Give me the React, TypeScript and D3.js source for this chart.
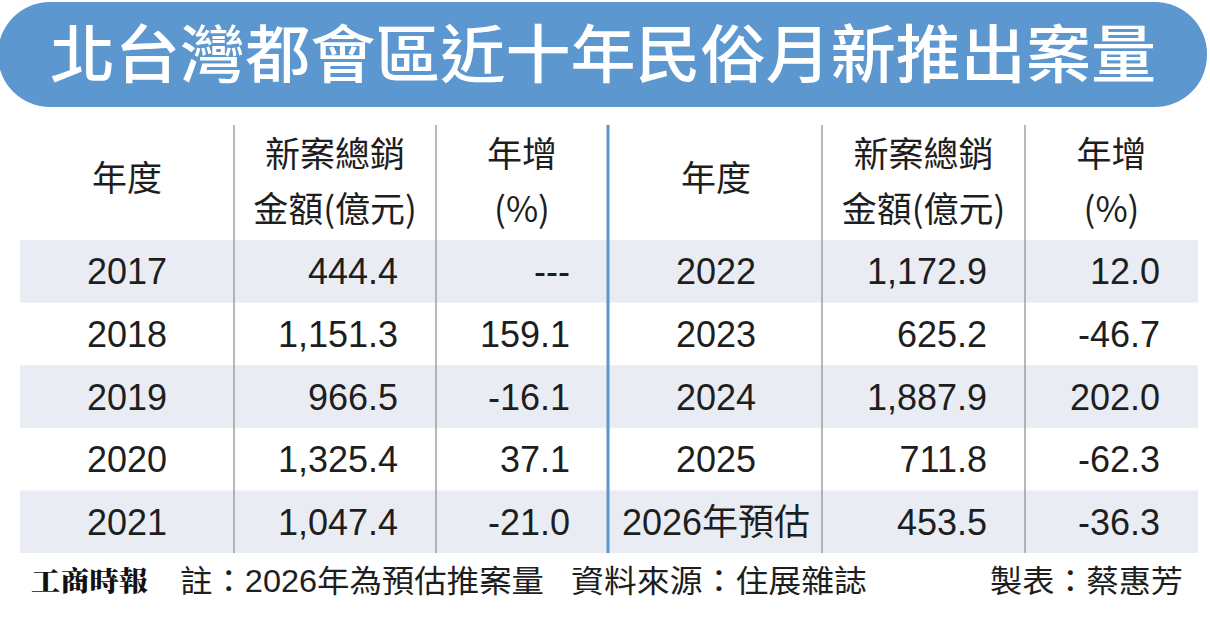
import React from "react";
import * as d3 from "d3";

const title = "北台灣都會區近十年民俗月新推出案量";
const headerYear = ["年度"];
const headerSales = ["新案總銷", "金額(億元)"];
const headerGrowth = ["年增", "(%)"];
const yearsLeft = ["2017", "2018", "2019", "2020", "2021"];
const salesLeft = [444.4, 1151.3, 966.5, 1325.4, 1047.4];
const growthLeft: (number | null)[] = [null, 159.1, -16.1, 37.1, -21.0];
const yearsRight = ["2022", "2023", "2024", "2025", "2026年預估"];
const salesRight = [1172.9, 625.2, 1887.9, 711.8, 453.5];
const growthRight: (number | null)[] = [12.0, -46.7, 202.0, -62.3, -36.3];
const footLogo = "工商時報";
const footNote = "註：2026年為預估推案量";
const footSource = "資料來源：住展雜誌";
const footAuthor = "製表：蔡惠芳";

const W = 1210;
const H = 621;
const FONT = "'Liberation Sans', Arial, 'Noto Sans CJK TC', sans-serif";
const CJK = "'Noto Sans CJK TC', 'Liberation Sans', sans-serif";
const TEXT = "#1e1e1e";
const BLUE = "#5d97d0";

export default function App() {
  const rowIdx = d3.range(yearsLeft.length).map(String);
  const y = d3.scaleBand<string>().domain(rowIdx).range([240, 553]).paddingInner(0).paddingOuter(0);
  const fmt = d3.format(",.1f");
  const fmtG = (v: number | null) => (v === null ? "---" : d3.format(".1f")(v).replace("\u2212", "-"));

  const halves = [
    { x0: 20, c1: 234, c2: 436, x1: 608, years: yearsLeft, sales: salesLeft, growth: growthLeft },
    { x0: 610, c1: 822, c2: 1025, x1: 1198, years: yearsRight, sales: salesRight, growth: growthRight },
  ];

  return (
    <svg width={W} height={H} style={{ position: "absolute", left: 0, top: 0, background: "#fff" }}>
      <rect x={0} y={0} width={W} height={H} fill="#fff" />
      <rect x={-2} y={2} width={1209} height={105} rx={52} ry={52} fill={BLUE} />
      <text
        x={603}
        y={77}
        textAnchor="middle"
        fill="#fff"
        fontFamily={CJK}
        fontWeight={500}
        fontSize={63}
        textLength={1106}
        lengthAdjust="spacingAndGlyphs"
      >
        {title}
      </text>

      {rowIdx.filter((_, i) => i % 2 === 0).map((k) => (
        <rect key={k} x={20} y={y(k)} width={1178} height={y.bandwidth()} fill="#e9edf3" />
      ))}

      {halves.map((h, hi) => (
        <g key={hi}>
          {[h.c1, h.c2].map((cx) => (
            <line key={cx} x1={cx} x2={cx} y1={125} y2={553} stroke="#8a8a8a" strokeWidth={1.2} />
          ))}
          <text x={(h.x0 + h.c1) / 2} y={191} textAnchor="middle" fontFamily={CJK} fontSize={35} fill={TEXT}>
            {headerYear[0]}
          </text>
          {headerSales.map((s, i) => (
            <text key={s} x={(h.c1 + h.c2) / 2} y={167 + i * 55} textAnchor="middle" fontFamily={CJK} fontSize={35} fill={TEXT}>
              {s}
            </text>
          ))}
          {headerGrowth.map((s, i) => (
            <text key={s} x={(h.c2 + h.x1) / 2} y={167 + i * 55} textAnchor="middle" fontFamily={CJK} fontSize={35} fill={TEXT}>
              {s}
            </text>
          ))}
          {rowIdx.map((k, i) => {
            const cy = (y(k) as number) + y.bandwidth() / 2 + 13;
            return (
              <g key={k}>
                <text x={(h.x0 + h.c1) / 2} y={cy} textAnchor="middle" fontFamily={FONT} fontSize={36} fill={TEXT}>
                  {h.years[i]}
                </text>
                <text x={h.c2 - 38} y={cy} textAnchor="end" fontFamily={FONT} fontSize={36} fill={TEXT}>
                  {fmt(h.sales[i])}
                </text>
                <text x={h.x1 - 38} y={cy} textAnchor="end" fontFamily={FONT} fontSize={36} fill={TEXT}>
                  {fmtG(h.growth[i])}
                </text>
              </g>
            );
          })}
        </g>
      ))}

      <line x1={608} x2={608} y1={125} y2={553} stroke={BLUE} strokeWidth={3} />

      <text
        x={31}
        y={591}
        fontFamily="'Noto Serif CJK TC', 'Noto Sans CJK TC', serif"
        fontWeight={900}
        fontSize={27}
        fill="#111"
        textLength={117}
        lengthAdjust="spacingAndGlyphs"
      >
        {footLogo}
      </text>
      <text x={180} y={592} fontFamily={FONT} fontSize={31} fill={TEXT} textLength={364} lengthAdjust="spacingAndGlyphs">
        {footNote}
      </text>
      <text x={571} y={592} fontFamily={FONT} fontSize={31} fill={TEXT} textLength={296} lengthAdjust="spacingAndGlyphs">
        {footSource}
      </text>
      <text x={990} y={592} fontFamily={FONT} fontSize={31} fill={TEXT} textLength={193} lengthAdjust="spacingAndGlyphs">
        {footAuthor}
      </text>
    </svg>
  );
}
